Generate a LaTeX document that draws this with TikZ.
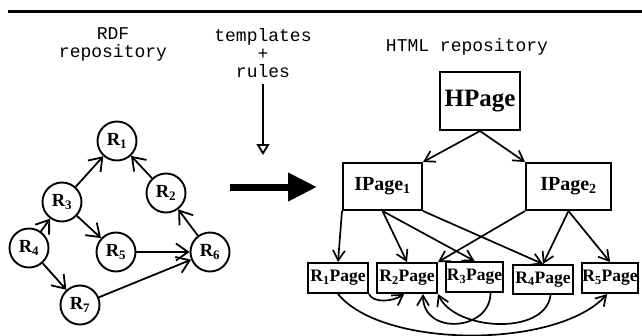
\documentclass[tikz,border=0pt]{standalone}
\usepackage{fontspec}
\setmainfont{Liberation Serif}
\setmonofont{Liberation Mono}
\usetikzlibrary{positioning,calc,arrows.meta}

\begin{document}
\begin{tikzpicture}[x=1pt,y=-1pt]
	\useasboundingbox (0,0) rectangle (642,335);
	\coordinate (rulel) at (8,11);
	\coordinate (ruler) at (642,11);
	\draw [line width=3pt] (rulel) -- (ruler);

	% captions
	\begin{scope}
		\tikzstyle{every node}=[align=center, inner sep=0pt, font=\ttfamily\fontsize{18}{18}\selectfont]
		\node (rdf) at (113,44) {RDF\\repository};
		\node (tr) at (263,53) {templates\\+\\rules};
		\node (html) at (467,47) {HTML repository};
	\end{scope}

	\coordinate (tdrop) at (263,155);
	\draw [line width=1.8pt, -{Triangle[open, length=11pt, width=13pt]}, shorten <=6pt] (tr.south) -- (tdrop);

	\coordinate (bsa) at (230,187);
	\coordinate (bsb) at (317,187);
	\draw [line width=7pt, -{Triangle[length=29pt, width=27pt]}] (bsa) -- (bsb);

	% RDF graph
	\begin{scope}[line width=1.9pt]
		\tikzstyle{every node}=[circle, draw, minimum size=39pt, inner sep=0pt, font=\bfseries\fontsize{18.5}{18.5}\selectfont]
		\tikzstyle{rdf}=[line width=1.8pt, -{Straight Barb[length=12pt, width=17pt]}]
		\node (r1) at (117,141) {R\textsubscript{1}};
		\node (r2) at (166,193) {R\textsubscript{2}};
		\node (r3) at (62,202) {R\textsubscript{3}};
		\node (r4) at (29,248) {R\textsubscript{4}};
		\node (r5) at (116,252) {R\textsubscript{5}};
		\node (r6) at (210,252) {R\textsubscript{6}};
		\node (r7) at (80,305) {R\textsubscript{7}};

		\draw [rdf] (r3) to (r1);
		\draw [rdf] (r2) to (r1);
		\draw [rdf] (r4) to (r3);
		\draw [rdf] (r3) to (r5);
		\draw [rdf] (r5) to (r6);
		\draw [rdf] (r6) to (r2);
		\draw [rdf] (r4) to (r7);
		\draw [rdf] (r7) to (r6);
	\end{scope}

	% HTML pages
	\begin{scope}[line width=2pt]
		\tikzstyle{every node}=[draw, rectangle, inner sep=0pt, font=\bfseries]
		\tikzstyle{rpage}=[minimum height=30pt, font=\bfseries\fontsize{17.5}{17.5}\selectfont]
		\tikzstyle{link}=[line width=1.7pt, -{Straight Barb[length=10pt, width=12pt]}]
		\node [minimum width=80pt, minimum height=58pt, font=\bfseries\fontsize{25}{25}\selectfont] (hpage) at (480,101) {HPage};
		\node [minimum width=79pt, minimum height=47pt, font=\bfseries\fontsize{20}{20}\selectfont] (ip1) at (382.5,186.5) {IPage\textsubscript{1}};
		\node [minimum width=85pt, minimum height=47pt, font=\bfseries\fontsize{20}{20}\selectfont] (ip2) at (568.5,186.5) {IPage\textsubscript{2}};

		\node [rpage, minimum width=60pt] (rp1) at (338,278) {R\textsubscript{1}Page};
		\node [rpage, minimum width=60pt] (rp2) at (407,278) {R\textsubscript{2}Page};
		\node [rpage, minimum width=57pt] (rp3) at (474.5,277) {R\textsubscript{3}Page};
		\node [rpage, minimum width=60pt, minimum height=29pt] (rp4) at (543,279.5) {R\textsubscript{4}Page};
		\node [rpage, minimum width=56pt] (rp5) at (610,278) {R\textsubscript{5}Page};

		\draw [link] (hpage.south) to (ip1.north east);
		\draw [link] (hpage.south) to (ip2.north west);

		\draw [link] (ip1.south west) to (rp1.north);
		\draw [link] (ip1.south) to (rp2.north);
		\draw [link] (ip1.south) to (rp3.north);
		\draw [link] (ip1.south east) to (rp4.north);
		\draw [link] (ip2.south west) to (rp2.north east);
		\draw [link] (ip2.south) to (rp4.north);
		\draw [link] (ip2.south) to (rp5.north);

		% links between the resource pages
		\draw [link] (rp1.south east) .. controls +(4,9) and +(-12,8) .. (rp2.-100);
		\draw [link] (rp1.south) .. controls +(45,55) and +(-50,55) .. (rp5.-100);
		\draw [link] (rp3.-45) .. controls +(0,38) and +(0,42) .. (rp2.-45);
		\draw [link] (rp4.-64) .. controls +(-5,41) and +(17,37) .. (rp2.south east);
	\end{scope}
\end{tikzpicture}
\end{document}
